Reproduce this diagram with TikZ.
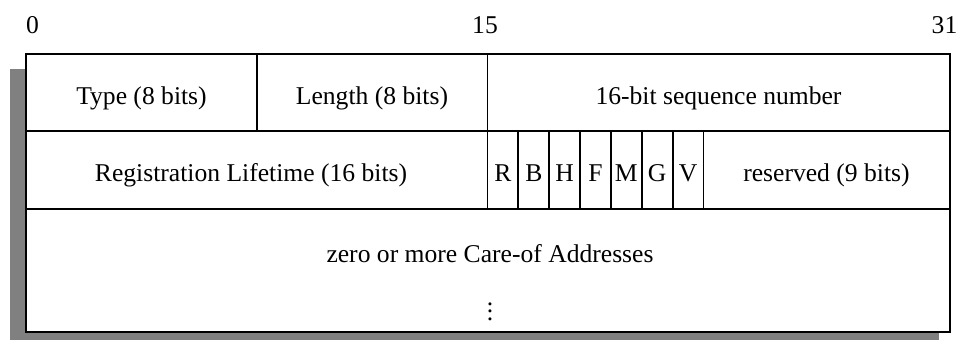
\documentclass[tikz,border=0pt]{standalone}
\usepackage{fontspec}
\setmainfont{Liberation Serif}
\begin{document}
\begin{tikzpicture}[x=0.75pt,y=-0.75pt,
  frame/.style={draw=black,line width=1.4pt},
  lbl/.style={anchor=base,inner sep=0pt,font=\fontsize{19.2}{23}\selectfont},
  shadowfill/.style={fill=black!50}]
\useasboundingbox (0,0) rectangle (958,340);

% bit positions
\node[lbl] (b0)  at (32.5,33) {0};
\node[lbl] (b15) at (485,33) {15};
\node[lbl] (b31) at (944.5,33) {31};

% drop shadow and packet body
\fill[shadowfill] (10,69) rectangle (939,340);
\fill[white] (26,54) rectangle (950,332);

% row 1
\draw[frame] (26,54) rectangle (257,131);
\draw[frame] (257,54) rectangle (487.5,131);
\draw[frame] (487.5,54) rectangle (950,131);
\node[lbl] (type) at (141.5,104) {Type (8 bits)};
\node[lbl] (len)  at (372,104) {Length (8 bits)};
\node[lbl] (seq)  at (718.5,104) {16-bit sequence number};

% row 2
\draw[frame] (26,131) rectangle (487.5,209);
\node[lbl] (life) at (251,181) {Registration Lifetime (16 bits)};
\foreach \f [count=\i from 0] in {R,B,H,F,M,G,V}{
  \draw[frame] ({487.5+30.86*\i},131) rectangle ({487.5+30.86*(\i+1)},209);
  \node[lbl] (flag\f) at ({487.5+30.86*(\i+0.5)},181) {\f};
}
\draw[frame] (703.5,131) rectangle (950,209);
\node[lbl] (res) at (826.5,181) {reserved (9 bits)};

% row 3
\draw[frame] (26,209) rectangle (950,332);
\node[lbl] (coa) at (490,262) {zero or more Care-of Addresses};
\node[lbl,anchor=south] (dots) at (490,321)
  {\vbox{\baselineskip=5.6pt\lineskiplimit=0pt\hbox{.}\hbox{.}\hbox{.}}};
\end{tikzpicture}
\end{document}
